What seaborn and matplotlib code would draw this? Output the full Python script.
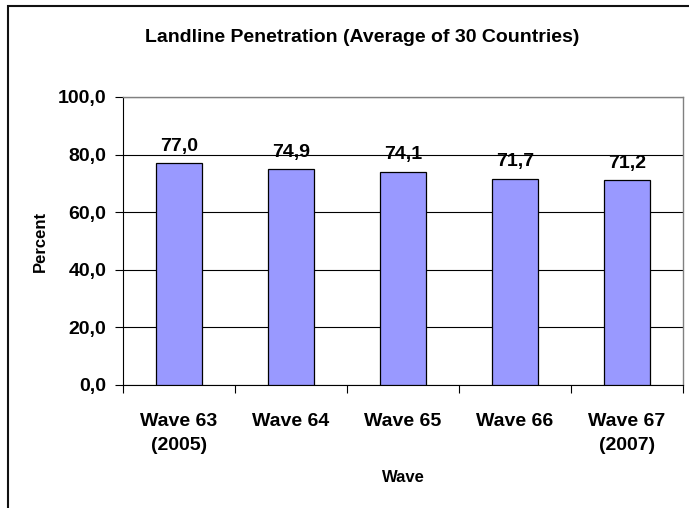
import numpy as np
import pandas as pd
import seaborn as sns
from matplotlib import pyplot as plt
from matplotlib.patches import Rectangle
from matplotlib.ticker import FuncFormatter, FixedLocator

# data
waves = ['Wave 63\n(2005)', 'Wave 64', 'Wave 65', 'Wave 66', 'Wave 67\n(2007)']
landline_pct = [77.0, 74.9, 74.1, 71.7, 71.2]
y_ticks = [0, 20, 40, 60, 80, 100]

df = pd.DataFrame({'wave': waves, 'percent': landline_pct})

sns.set_style('white')
plt.rcParams['font.family'] = ['Liberation Sans', 'DejaVu Sans']
plt.rcParams['font.weight'] = 'bold'
for key in ['text.color', 'axes.labelcolor', 'xtick.color', 'ytick.color']:
    plt.rcParams[key] = 'black'


def comma_fmt(v, pos=None):
    # european style decimal comma
    return f'{v:.1f}'.replace('.', ',')


fig = plt.figure(figsize=(6.89, 5.08), dpi=100)
ax = fig.add_axes([123 / 689, 1 - 385 / 508, (683 - 123) / 689, (385 - 97) / 508])

sns.barplot(data=df, x='wave', y='percent', color='#9999FF', saturation=1,
            width=0.41, edgecolor='black', linewidth=0.9, ax=ax, zorder=3)

# value labels on top of each bar
ax.bar_label(ax.containers[0], labels=[comma_fmt(v) for v in landline_pct],
             padding=6, fontsize=14, fontweight='bold', color='black')

ax.set_ylim(0, 100)
ax.set_xlim(-0.5, len(waves) - 0.5)
ax.set_yticks(y_ticks)
ax.yaxis.set_major_formatter(FuncFormatter(comma_fmt))
ax.grid(axis='y', color='black', linewidth=0.8, zorder=0)
ax.set_axisbelow(True)

# ticks between categories, labels centred under bars
ax.xaxis.set_minor_locator(FixedLocator(np.arange(-0.5, len(waves), 1.0)))
ax.tick_params(axis='x', which='major', length=0, pad=20, labelsize=14)
ax.tick_params(axis='x', which='minor', length=6, width=0.8, direction='out', bottom=True)
ax.tick_params(axis='y', which='major', length=6, width=0.8, direction='out', left=True, pad=6, labelsize=14)
for lab in ax.get_xticklabels() + ax.get_yticklabels():
    lab.set_fontweight('bold')
    lab.set_color('black')
for lab in ax.get_xticklabels():
    lab.set_linespacing(1.55)

for side in ['left', 'bottom']:
    ax.spines[side].set_color('black')
    ax.spines[side].set_linewidth(0.8)
for side in ['top', 'right']:
    ax.spines[side].set_color('#808080')
    ax.spines[side].set_linewidth(1.0)

ax.set_ylabel('Percent', fontsize=12, fontweight='bold')
ax.yaxis.set_label_coords(-0.135, 0.5)
ax.set_xlabel('Wave', fontsize=12, fontweight='bold')
ax.xaxis.set_label_coords(0.5, -0.295)

fig.text(362 / 689, 1 - 37 / 508, 'Landline Penetration (Average of 30 Countries)',
         ha='center', va='center', fontsize=14, fontweight='bold', color='black')

# outer chart frame
fig.patches.append(Rectangle((7.5 / 689, -0.05), 1.2, 1 - 5.5 / 508 + 0.05,
                             transform=fig.transFigure, fill=False,
                             edgecolor='#111111', linewidth=1.5))

fig.savefig('out.png', dpi=100)
